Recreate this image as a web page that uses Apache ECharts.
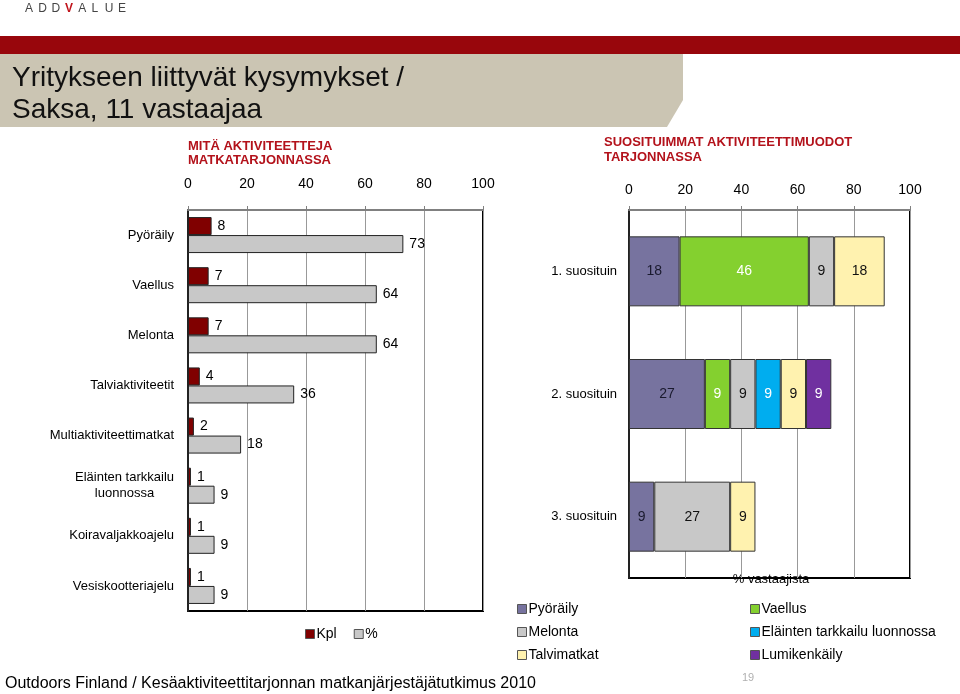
<!DOCTYPE html>
<html><head><meta charset="utf-8">
<script src="https://cdn.jsdelivr.net/npm/echarts/dist/echarts.min.js"></script>
<style>html,body{margin:0;padding:0;background:#fff}#c{width:960px;height:694px}</style>
</head><body><div id="c"></div>
<script>
// ---- data ----
const activities = ['Pyöräily','Vaellus','Melonta','Talviaktiviteetit','Multiaktiviteettimatkat','Eläinten tarkkailu\nluonnossa','Koiravaljakkoajelu','Vesiskootteriajelu'];
const kplValues = [8,7,7,4,2,1,1,1];
const pctValues = [73,64,64,36,18,9,9,9];
const xTicks = [0,20,40,60,80,100];
const ranks = ['1. suosituin','2. suosituin','3. suosituin'];
const pyoraily = [18,27,9];
const vaellus = [46,9,null];
const melonta = [9,9,27];
const elainten = [null,9,null];
const talvimatkat = [18,9,9];
const lumikenkaily = [null,9,null];

const FONT = 'Liberation Sans, Arial, sans-serif';
const chart = echarts.init(document.getElementById('c'), null, {renderer:'canvas'});

function topAxis(gi){
  return {
    type:'value', gridIndex:gi, position:'top', min:xTicks[0], max:xTicks[xTicks.length-1], interval:xTicks[1]-xTicks[0],
    axisLine:{show:true, lineStyle:{color:'#808080', width:2}},
    axisTick:{show:true, length:4, lineStyle:{color:'#808080'}},
    axisLabel:{fontSize:14, color:'#000', fontFamily:FONT, margin: gi===0?19:13},
    splitLine:{show:true, lineStyle:{color:'#999999', width:1}}
  };
}
function stackSeries(name, data, color, labelColor){
  return {name, type:'bar', stack:'r', xAxisIndex:1, yAxisIndex:1, data, barWidth:70,
    itemStyle:{color, borderColor:'#333', borderWidth:1},
    label:{show:true, position:'inside', fontSize:14, color:labelColor, fontFamily:FONT}};
}
const legendText = {fontSize:14, color:'#000', fontFamily:FONT, lineHeight:16, padding:[0,0,0,-3]};

const option = {
  animation:false,
  textStyle:{fontFamily:FONT},
  grid:[
    {left:188, right:477, top:210, bottom:83, show:true, borderColor:'#000', borderWidth:2},
    {left:629, right:50, top:210, bottom:116, show:true, borderColor:'#000', borderWidth:2}
  ],
  xAxis:[topAxis(0), topAxis(1)],
  yAxis:[
    {type:'category', gridIndex:0, inverse:true, data:activities,
      axisLine:{show:true, lineStyle:{color:'#222', width:2}}, axisTick:{show:false},
      axisLabel:{fontSize:13, color:'#000', fontFamily:FONT, margin:14, lineHeight:16,
        formatter:v => v.indexOf('\n')>=0 ? v.split('\n').map(s=>'{c|'+s+'}').join('\n') : v,
        rich:{c:{align:'center', fontSize:13, color:'#000', fontFamily:FONT, lineHeight:16}}}},
    {type:'category', gridIndex:1, inverse:true, data:ranks,
      axisLine:{show:true, lineStyle:{color:'#222', width:2}}, axisTick:{show:false},
      axisLabel:{fontSize:13, color:'#000', fontFamily:FONT, margin:12}}
  ],
  legend:[
    {data:['Kpl','%'], left:300, top:621, itemWidth:9, itemHeight:9, itemGap:17, icon:'rect',
      itemStyle:{borderColor:'#555', borderWidth:1}, textStyle:legendText},
    {data:['Pyöräily','Melonta','Talvimatkat'], orient:'vertical', left:512, top:596, itemWidth:9, itemHeight:9, itemGap:7, icon:'rect',
      itemStyle:{borderColor:'#555', borderWidth:1}, textStyle:legendText},
    {data:['Vaellus','Eläinten tarkkailu luonnossa','Lumikenkäily'], orient:'vertical', left:745, top:596, itemWidth:9, itemHeight:9, itemGap:7, icon:'rect',
      itemStyle:{borderColor:'#555', borderWidth:1}, textStyle:legendText}
  ],
  series:[
    {name:'Kpl', type:'bar', xAxisIndex:0, yAxisIndex:0, data:kplValues, barWidth:18, barGap:'0%',
      itemStyle:{color:'#800000', borderColor:'#222', borderWidth:1},
      label:{show:true, position:'right', distance:6, fontSize:14, color:'#000', fontFamily:FONT}},
    {name:'%', type:'bar', xAxisIndex:0, yAxisIndex:0, data:pctValues, barWidth:18, barGap:'0%',
      itemStyle:{color:'#C8C8C8', borderColor:'#222', borderWidth:1},
      label:{show:true, position:'right', distance:6, fontSize:14, color:'#000', fontFamily:FONT}},
    stackSeries('Pyöräily', pyoraily, '#77739F', '#1a1a2e'),
    stackSeries('Vaellus', vaellus, '#84D02F', '#ffffff'),
    stackSeries('Melonta', melonta, '#C8C8C8', '#111'),
    stackSeries('Eläinten tarkkailu luonnossa', elainten, '#00ADEF', '#ffffff'),
    stackSeries('Talvimatkat', talvimatkat, '#FFF2AF', '#111'),
    stackSeries('Lumikenkäily', lumikenkaily, '#7030A0', '#ffffff')
  ],
  graphic:[
    {type:'rect', shape:{x:0, y:36, width:960, height:18}, style:{fill:'#98060C'}, silent:true},
    {type:'polygon', shape:{points:[[0,54],[683,54],[683,100],[667,127],[0,127]]}, style:{fill:'#CBC5B3'}, silent:true},
    {type:'text', x:25, y:9, style:{text:'{a|A}{a|D}{a|D}{v|V}{a|A}{a|L}{a|U}{a|E}', verticalAlign:'middle',
      rich:{a:{width:13.3, fontSize:12, fill:'#444', fontFamily:FONT}, v:{width:13.3, fontSize:12, fill:'#C0141C', fontFamily:FONT, fontWeight:'bold'}}}},
    {type:'text', x:12, y:78, style:{text:'Yritykseen liittyvät kysymykset /', fontSize:28, fill:'#111', fontFamily:FONT, verticalAlign:'middle'}},
    {type:'text', x:12, y:110, style:{text:'Saksa, 11 vastaajaa', fontSize:28, fill:'#111', fontFamily:FONT, verticalAlign:'middle'}},
    {type:'text', x:188, y:146, style:{text:'MITÄ AKTIVITEETTEJA', fontSize:13, fontWeight:'bold', fill:'#B3121B', fontFamily:FONT, verticalAlign:'middle'}},
    {type:'text', x:188, y:160, style:{text:'MATKATARJONNASSA', fontSize:13, fontWeight:'bold', fill:'#B3121B', fontFamily:FONT, verticalAlign:'middle'}},
    {type:'text', x:604, y:142, style:{text:'SUOSITUIMMAT AKTIVITEETTIMUODOT', fontSize:13, fontWeight:'bold', fill:'#B3121B', fontFamily:FONT, verticalAlign:'middle'}},
    {type:'text', x:604, y:157, style:{text:'TARJONNASSA', fontSize:13, fontWeight:'bold', fill:'#B3121B', fontFamily:FONT, verticalAlign:'middle'}},
    {type:'text', x:771, y:579, style:{text:'% vastaajista', fontSize:13, fill:'#000', fontFamily:FONT, align:'center', verticalAlign:'middle'}},
    {type:'text', x:5, y:684, style:{text:'Outdoors Finland / Kesäaktiviteettitarjonnan matkanjärjestäjätutkimus 2010', fontSize:16, fill:'#000', fontFamily:FONT, verticalAlign:'middle'}},
    {type:'text', x:742, y:678, style:{text:'19', fontSize:11, fill:'#b0b0b0', fontFamily:FONT, verticalAlign:'middle'}}
  ]
};
chart.setOption(option);
</script>
</body></html>
